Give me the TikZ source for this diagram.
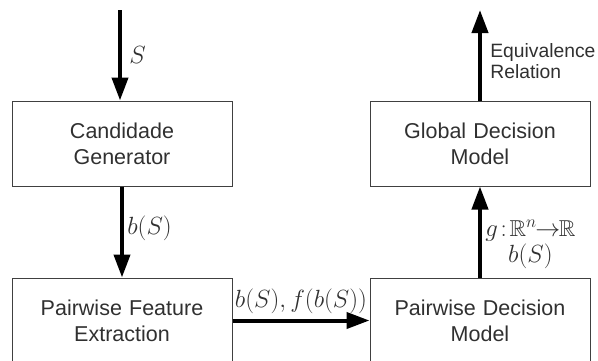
\documentclass[tikz,border=0pt]{standalone}
\usepackage{fontspec}
\usepackage{amssymb}
\setsansfont{Liberation Sans}
\usetikzlibrary{arrows.meta}
\definecolor{boxline}{HTML}{404040}
\definecolor{boxtext}{HTML}{303030}
\tikzstyle{block} = [rectangle, draw=boxline, line width=1pt, minimum height=85pt, text width=220pt, inner sep=0pt, text centered, text=boxtext, font=\sffamily\fontsize{21.5}{26}\selectfont]
\tikzstyle{flow} = [line width=4pt, -{Triangle[length=23pt,width=16pt]}]
\tikzstyle{mlabel} = [font=\fontsize{23}{26}\selectfont, text=boxtext]

\begin{document}
\begin{tikzpicture}[x=1pt, y=-1pt, node distance=177pt]
\useasboundingbox (0,0) rectangle (598,360);
\node (cg) [block] at (122,143.5) {Candidade\\Generator};
\node (pfe) [block, below of=cg] {Pairwise Feature\\Extraction};
\node (gdm) [block, right of=cg, xshift=181pt] {Global Decision\\Model};
\node (pdm) [block, right of=pfe, xshift=181pt] {Pairwise Decision\\Model};

\coordinate (in) at (120,10);
\coordinate (out) at (480,10);

\draw [flow] (in) -- node[mlabel, right, pos=0.5, xshift=4pt] {$S$} (in |- cg.north);
\draw [flow] (cg) -- node[mlabel, right, pos=0.46] {$b(S)$} (pfe);
\draw [flow] (pfe) -- node[mlabel, above, yshift=1pt] {$b(S){,}\,f(b(S))$} (pdm);
\draw [flow] (pdm) -- node[mlabel, right, pos=0.36, align=center] {$g\!:\!\mathbb{R}^n\!\!\to\!\!\mathbb{R}$\\$b(S)$} (gdm);
\draw [flow] (gdm) -- node[right, pos=0.43, xshift=5pt, align=left, text=boxtext, font=\sffamily\fontsize{19.3}{21}\selectfont] {Equivalence\\Relation} (out);
\end{tikzpicture}
\end{document}
